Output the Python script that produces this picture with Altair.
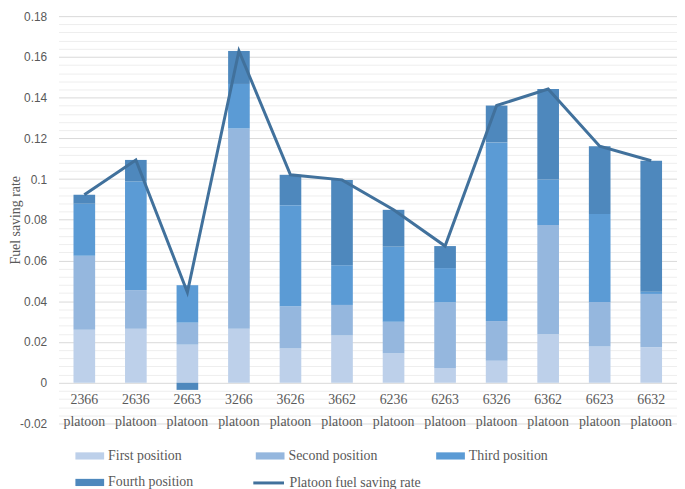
import altair as alt
import pandas as pd

categories = ["2366", "2636", "2663", "3266", "3626", "3662",
              "6236", "6263", "6326", "6362", "6623", "6632"]
series_names = ["First position", "Second position", "Third position", "Fourth position"]
first = [0.0260, 0.0265, 0.0187, 0.0265, 0.0168, 0.0232, 0.0144, 0.0073, 0.0108, 0.0238, 0.0178, 0.0174]
second = [0.0363, 0.0190, 0.0108, 0.0983, 0.0208, 0.0150, 0.0156, 0.0322, 0.0195, 0.0536, 0.0219, 0.0262]
third = [0.0256, 0.0533, 0.0184, 0.0219, 0.0496, 0.0195, 0.0368, 0.0168, 0.0877, 0.0224, 0.0431, 0.0011]
fourth = [0.0044, 0.0106, -0.0035, 0.0162, 0.0149, 0.0419, 0.0181, 0.0108, 0.0181, 0.0444, 0.0333, 0.0643]
rate = [0.0923, 0.1094, 0.0444, 0.1629, 0.1021, 0.0996, 0.0849, 0.0671, 0.1361, 0.1442, 0.1161, 0.1090]
line_name = "Platoon fuel saving rate"

bar_colors = ["#BDD0EA", "#95B7DE", "#5B9BD5", "#4E88BD"]
line_color = "#41719C"

rows = []
for i, c in enumerate(categories):
    for k, (name, vals) in enumerate(zip(series_names, [first, second, third, fourth])):
        rows.append({"cat": c + " platoon", "series": name, "order": k, "value": vals[i]})
bars_df = pd.DataFrame(rows)
line_df = pd.DataFrame({"cat": [c + " platoon" for c in categories], "value": rate, "series": line_name})

cat_labels = [c + " platoon" for c in categories]
tick_vals = [round(i * 0.004, 3) for i in range(-5, 46)]

serif = "Liberation Serif"
gray = "#595959"
major_test = "abs(datum.value*50 - round(datum.value*50)) < 0.01"

x_enc = alt.X("cat:N", sort=cat_labels, title=None,
              scale=alt.Scale(paddingInner=0.58, paddingOuter=0.29),
              axis=alt.Axis(labelAngle=0, domain=False, ticks=False, offset=-41,
                            labelPadding=10, labelFont=serif, labelFontSize=14,
                            labelColor=gray, labelLineHeight=22,
                            labelExpr="split(datum.label, ' ')"))

y_axis = alt.Axis(values=tick_vals, tickCount=100, title="Fuel saving rate", titleFont=serif,
                  titleFontSize=14, titleFontWeight="normal", titleColor=gray,
                  titlePadding=-3, labelFont="Liberation Sans", labelFontSize=12,
                  labelColor=gray, labelPadding=12, domain=False, ticks=False,
                  labelOverlap=False, labelBound=False, labelFlush=False,
                  labelExpr=major_test + " ? replace(format(datum.value, '.2~f'), '\u2212', '-') : ''",
                  gridColor={"condition": {"test": major_test, "value": "#D9D9D9"}, "value": "#EEEEEE"},
                  gridWidth=1)

bars = alt.Chart(bars_df).mark_bar().encode(
    x=x_enc,
    y=alt.Y("value:Q", stack="zero", scale=alt.Scale(domain=[-0.02, 0.18], nice=False), axis=y_axis),
    color=alt.Color("series:N", sort=series_names,
                    scale=alt.Scale(domain=series_names, range=bar_colors),
                    legend=alt.Legend(orient="none", legendX=24, legendY=436, columns=3,
                                      direction="horizontal",
                                      gridAlign="all", columnPadding=59, rowPadding=12,
                                      padding=0, title=None,
                                      symbolType="M-2,-0.5H2V0.5H-2Z", symbolSize=210,
                                      symbolStrokeWidth=0, symbolOpacity=1,
                                      labelOffset=11, labelFont=serif, labelFontSize=14,
                                      labelColor=gray)),
    order=alt.Order("order:Q"),
)

line = alt.Chart(line_df).mark_line(strokeWidth=3).encode(
    x=alt.X("cat:N", sort=cat_labels),
    y=alt.Y("value:Q"),
    stroke=alt.Stroke("series:N", scale=alt.Scale(domain=[line_name], range=[line_color]),
                      legend=alt.Legend(orient="none", legendX=195, legendY=454, padding=0,
                                        title=None, symbolType="stroke", symbolSize=961,
                                        symbolStrokeWidth=3, labelOffset=4, labelFont=serif,
                                        labelFontSize=14, labelColor=gray)),
)

chart = alt.layer(bars, line).properties(
    width=624, height=411, autosize="none",
    padding={"left": 51, "top": 6, "right": 0, "bottom": 75},
).configure_view(stroke=None).resolve_scale(color="independent")

chart.save("out.html", embed_options={"renderer": "svg", "actions": False})
